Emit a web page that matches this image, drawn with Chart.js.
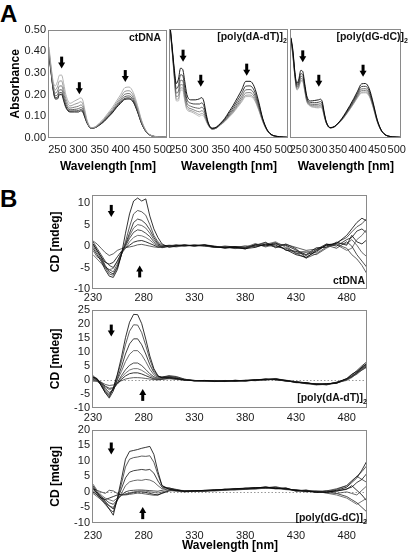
<!DOCTYPE html>
<html>
<head>
<meta charset="utf-8">
<script src="https://cdn.jsdelivr.net/npm/chart.js@4"></script>
<style>
  body { margin: 0; background: #fff; width: 411px; height: 557px; position: relative; overflow: hidden;
         font-family: "Liberation Sans", Arial, sans-serif; }
  .box { position: absolute; }
  .big { position: absolute; left: 0; font-weight: bold; font-size: 24px; line-height: 24px; color: #000; }
  .tag { position: absolute; font-weight: bold; font-size: 10.5px; line-height: 10px; white-space: nowrap; color: #111; }
  .tag sub { font-size: 7px; line-height: 0; vertical-align: -3px; }
</style>
</head>
<body>
<div class="big" style="top:2px">A</div>
<div class="big" style="top:187px">B</div>

<div class="box" style="left:0;top:20px"><canvas id="a1" width="180" height="158"></canvas></div>
<div class="box" style="left:160px;top:20px"><canvas id="a2" width="140" height="158"></canvas></div>
<div class="box" style="left:281px;top:20px"><canvas id="a3" width="130" height="158"></canvas></div>
<div class="box" style="left:30px;top:185px"><canvas id="b1" width="345" height="120"></canvas></div>
<div class="box" style="left:30px;top:300px"><canvas id="b2" width="345" height="125"></canvas></div>
<div class="box" style="left:30px;top:420px"><canvas id="b3" width="345" height="137"></canvas></div>

<div class="tag" style="right:250px;top:32px">ctDNA</div>
<div class="tag" style="right:124px;top:31px">[poly(dA-dT)]<sub>2</sub></div>
<div class="tag" style="right:3px;top:31px">[poly(dG-dC)]<sub>2</sub></div>
<div class="tag" style="right:46px;top:275px">ctDNA</div>
<div class="tag" style="right:44px;top:392px">[poly(dA-dT)]<sub>2</sub></div>
<div class="tag" style="right:44px;top:512px">[poly(dG-dC)]<sub>2</sub></div>

<script>
// ---- data ----
const wlA = [230,235,240,245,250,255,260,265,270,280,290,300,305,310,315,320,330,340,350,360,370,380,390,400,410,420,430,440,450,460,470,480,490,500,510];
const xTicksA = [250,300,350,400,450,500];
const yTicksA = [0,0.1,0.2,0.3,0.4,0.5];

const absCtDNA = [
  [.42,.33,.26,.24,.26,.29,.29,.25,.20,.16,.17,.18,.185,.175,.13,.085,.048,.052,.07,.09,.115,.14,.17,.20,.232,.235,.21,.15,.08,.035,.015,.008,.005,.004,.003],
  [.408,.321,.248,.222,.236,.263,.263,.226,.182,.148,.155,.162,.167,.158,.12,.08,.047,.051,.067,.085,.109,.132,.161,.188,.215,.218,.197,.141,.076,.034,.014,.008,.005,.004,.003],
  [.398,.313,.238,.207,.216,.24,.24,.206,.167,.138,.142,.147,.152,.145,.111,.077,.046,.05,.064,.082,.104,.126,.153,.178,.202,.205,.185,.133,.072,.032,.014,.007,.005,.004,.003],
  [.39,.307,.23,.195,.20,.222,.222,.19,.155,.13,.132,.135,.14,.134,.104,.074,.046,.049,.062,.079,.10,.121,.147,.17,.191,.194,.176,.127,.069,.031,.013,.007,.005,.004,.003],
  [.384,.303,.224,.186,.188,.209,.209,.178,.146,.124,.125,.126,.131,.125,.098,.071,.045,.048,.061,.076,.097,.117,.143,.164,.183,.185,.17,.123,.066,.03,.013,.007,.005,.004,.003],
  [.38,.30,.22,.18,.18,.20,.20,.17,.14,.12,.12,.12,.125,.12,.095,.07,.045,.048,.06,.075,.095,.115,.14,.16,.178,.18,.165,.12,.065,.03,.013,.007,.005,.004,.003]
];
const absPolyAT = [
  [.52,.42,.32,.25,.27,.32,.315,.26,.20,.175,.175,.18,.185,.17,.12,.075,.045,.05,.068,.09,.12,.15,.185,.22,.26,.26,.235,.17,.09,.04,.017,.009,.006,.004,.003],
  [.514,.414,.308,.226,.24,.29,.287,.233,.179,.159,.156,.156,.161,.149,.108,.071,.044,.049,.066,.086,.113,.14,.172,.204,.238,.239,.217,.158,.086,.039,.016,.009,.006,.004,.003],
  [.509,.409,.298,.206,.215,.265,.263,.211,.162,.145,.139,.136,.141,.132,.098,.067,.042,.047,.064,.082,.106,.131,.16,.19,.221,.222,.202,.148,.082,.037,.016,.008,.005,.004,.003],
  [.505,.405,.29,.19,.195,.245,.244,.193,.148,.134,.126,.12,.125,.118,.09,.064,.041,.046,.062,.079,.101,.124,.151,.179,.207,.208,.19,.14,.079,.036,.015,.008,.005,.004,.003],
  [.502,.402,.284,.178,.18,.23,.23,.179,.137,.126,.117,.108,.113,.107,.084,.062,.04,.045,.061,.077,.098,.119,.145,.171,.196,.197,.181,.134,.077,.035,.015,.008,.005,.004,.003],
  [.50,.40,.28,.17,.17,.22,.22,.17,.13,.12,.11,.10,.105,.10,.08,.06,.04,.045,.06,.075,.095,.115,.14,.165,.19,.19,.175,.13,.075,.035,.015,.008,.005,.004,.003]
];
const absPolyGC = [
  [.46,.40,.30,.25,.27,.31,.305,.25,.195,.17,.172,.175,.178,.165,.115,.075,.048,.052,.068,.09,.118,.148,.18,.215,.248,.25,.225,.16,.085,.038,.016,.008,.005,.004,.003],
  [.457,.391,.294,.241,.258,.295,.291,.24,.187,.163,.162,.164,.167,.155,.11,.073,.047,.051,.067,.088,.114,.143,.173,.206,.236,.237,.215,.153,.082,.037,.016,.008,.005,.004,.003],
  [.455,.384,.289,.234,.248,.283,.279,.231,.18,.156,.154,.155,.157,.147,.106,.071,.047,.051,.066,.086,.111,.138,.167,.199,.225,.226,.206,.148,.08,.036,.015,.008,.005,.004,.003],
  [.453,.378,.285,.228,.24,.273,.27,.224,.175,.151,.148,.147,.15,.14,.102,.07,.047,.051,.065,.084,.108,.135,.163,.193,.217,.218,.199,.144,.078,.035,.015,.008,.005,.004,.003],
  [.451,.373,.282,.223,.234,.265,.263,.219,.171,.148,.143,.142,.144,.135,.10,.069,.046,.05,.064,.083,.106,.132,.159,.188,.21,.211,.194,.14,.076,.034,.015,.008,.005,.004,.003],
  [.45,.37,.28,.22,.23,.26,.258,.215,.168,.145,.14,.138,.14,.132,.098,.068,.046,.05,.064,.082,.105,.13,.157,.185,.206,.207,.19,.138,.075,.034,.015,.008,.005,.004,.003]
];

const wlCD = [230,234,238,242,246,250,254,258,262,266,270,274,278,282,286,290,294,298,305,312,320,330,340,350,360,370,380,390,400,410,420,430,440,450,460,470,480,485,490,495,500];
const xTicksCD = [230,280,330,380,430,480];
const yTicksCD1 = [-10,-5,0,5,10];
const yTicksCD2 = [-10,-5,0,5,10,15,20,25];
const yTicksCD3 = [-10,-5,0,5,10,15,20];

const cdCtDNA = [
  [-0.5,-2,-3.5,-5.5,-7,-7.3,-5.5,-2,3,7.5,10.5,11.2,10.5,11,7,4,2,0.5,-0.3,0,0.2,0.1,0.3,-0.2,-0.4,-0.3,-0.6,-0.3,0.5,0.2,-0.8,-2,-2.6,-1.2,0.3,0.6,2.5,4,5.5,6.5,5.8],
  [0,-1.5,-3,-5,-6.5,-6.8,-5,-2,1,4.5,7.5,8.3,8,7.2,5,2.5,1,0.2,0,0.3,0.1,0.2,0,-0.3,-0.2,-0.5,-0.4,0,0.8,-0.2,-0.5,-1.6,-2.8,-1.8,-0.2,0.8,2,3.3,4.5,5.2,6.5],
  [0.5,-1,-2.5,-4.5,-6,-6.5,-4.8,-2,0.5,3,5.5,6.3,6,5.2,3.8,2,0.6,0,0.2,0.1,0.3,0,0.2,-0.1,-0.5,-0.2,-0.7,0.3,0.2,0.8,-1,-1.2,-2.2,-0.8,0.5,0,1.5,2,3.5,4,3],
  [-1,-2.5,-3,-4.8,-5.5,-6,-4.2,-1.5,0.2,2.4,4.2,5,4.8,4.2,3,1.5,0.4,-0.2,0,0.2,0,0.3,0.1,-0.3,-0.1,-0.6,-0.3,0.6,-0.2,0.4,0.1,-1.8,-1.5,-2,-0.5,0.7,0.5,1.5,0.2,-1.5,-2.5],
  [1,-0.5,-2,-3.5,-4.5,-5,-3.5,-1.5,0,1.8,3.2,3.8,3.6,3,2.2,1,0.2,-0.3,-0.1,0.1,0.2,0,0.3,0,-0.4,-0.1,-0.2,0.2,0.9,-0.4,0.5,-0.6,-2.8,-1,0.2,-0.5,1,0,-2,-3.5,-5],
  [-2,-3,-4,-5,-5.5,-5.2,-3.5,-1.8,-0.5,1,2,2.5,2.4,2,1.4,0.6,0,-0.4,0,-0.2,0.1,0.2,0,-0.2,-0.3,-0.4,0.1,-0.2,0.4,1,-0.3,-1.4,-1.2,-1.5,0.4,0.3,-1,-0.5,1.5,2.5,4],
  [0.5,-1,-2.5,-3.8,-4.2,-3.8,-2.5,-1.2,-0.5,0.2,0.9,1.2,1.3,1,0.6,0.2,-0.2,-0.3,0.1,0,0.2,0.1,0.2,-0.3,0,-0.2,-0.5,0.4,0,0.6,0.2,-0.9,-2,-0.4,-0.3,0.9,0.2,2.5,1,0.5,1.5],
  [1.2,0.5,-0.5,-1.5,-2.2,-1.8,-1,-0.6,-0.3,-0.2,0,0.3,0.4,0.2,0,-0.2,-0.3,-0.1,0.1,0.2,0,0.2,0.1,-0.1,-0.2,-0.1,-0.3,0,0.3,-0.2,0.4,-0.3,-1,-0.7,0.1,0.4,-0.5,-2,-3,-4.5,-6.5]
];
const cdPolyAT = [
  [1,0.5,-2,-4.5,-6,-3,2,8,15,20.5,23.3,23.2,20,14.5,8.5,4,1.5,0.7,0.8,0.5,0,-0.3,-0.2,-0.4,-0.5,-0.2,-0.3,0,0.2,0.3,-0.2,-0.8,-1.2,-1.5,-1.5,-1,0.5,2,3,4.5,5.8],
  [0.5,0,-1.5,-4,-5.5,-3,1.5,6.5,12.5,17.3,19.6,19.5,16.8,12.2,7.2,3.4,1.3,0.8,1.2,0.9,0.2,-0.2,-0.4,-0.3,-0.6,-0.1,-0.4,0.1,0,0.5,-0.4,-0.6,-1.4,-1.3,-1.7,-0.8,0.2,1.5,2.5,4,5],
  [1.5,0.2,-2,-4.5,-6.5,-4,0.5,4.5,9.2,12.8,14.6,14.6,12.5,9.2,5.4,2.6,1.2,1,1.5,1.2,0.3,-0.4,-0.3,-0.5,-0.3,-0.5,-0.2,-0.1,0.3,0.1,-0.3,-0.9,-1,-1.6,-1.4,-1.2,0.3,1.8,3.3,5,6.5],
  [0,-0.5,-1.5,-3.5,-5,-3.5,0,3,6.5,9.1,10.4,10.4,8.9,6.5,3.8,1.8,0.9,1,1.3,0.8,0.1,-0.3,-0.5,-0.2,-0.4,-0.3,-0.5,0,0.1,0.2,-0.5,-0.7,-1.3,-1.8,-1.6,-0.9,0,1.2,2,3.5,4.5],
  [1,0.3,-1,-3,-4.5,-3.5,-1,1.5,3.6,5.2,6,6,5.1,3.7,2.2,1.1,0.6,0.8,1,0.6,0,-0.2,-0.3,-0.6,-0.2,-0.4,-0.1,-0.3,0.2,0,-0.2,-1,-1.1,-1.4,-1.8,-1.1,0.4,1,2.8,4.2,5.5],
  [-0.5,-0.5,-1.5,-2.5,-3.5,-3,-1.2,0.8,2.4,3.5,4,4,3.4,2.5,1.5,0.7,0.3,0.5,0.8,0.4,-0.1,-0.3,-0.2,-0.4,-0.5,-0.2,-0.3,0.1,-0.1,0.3,-0.3,-0.8,-1.2,-1.5,-1.5,-1,-0.2,0.8,2.2,3.8,5.2],
  [0.8,0,-1,-2.2,-3,-2.8,-1.5,0.2,1.4,2.2,2.5,2.5,2.1,1.5,0.9,0.4,0.2,0.3,0.6,0.3,0,-0.2,-0.4,-0.3,-0.3,-0.5,-0.2,0,0.3,0.1,-0.4,-0.7,-1,-1.7,-1.3,-1.2,0.1,1.3,2.5,3.5,4.8],
  [0.2,-0.3,-0.8,-1.6,-2,-1.8,-1,-0.3,0.3,0.6,0.8,0.8,0.7,0.5,0.3,0.1,0,0.2,0.4,0.2,-0.1,-0.3,-0.3,-0.5,-0.4,-0.2,-0.4,-0.1,0,0.4,-0.1,-0.6,-1.1,-1.5,-1.6,-0.9,0.3,1,2.3,4.5,6]
];
const cdPolyGC = [
  [1.5,-0.5,-2,-3.5,-5.5,-7.5,-2,4,10.5,13,13.3,13.6,14,14.3,14.6,12,6.5,2,0.8,0.5,0.2,0.3,0.5,0.6,0.8,1,1.2,1.3,1.5,1.2,1,0.5,0.2,0,-0.2,0.5,1.5,3,4.5,7,10],
  [0.5,-1,-2.5,-4,-5.5,-6.5,-2.5,2.5,8,10.5,11,11.2,11.5,11.4,11.6,9.5,5.5,2,1,0.6,0.3,0.2,0.4,0.7,0.6,0.9,1.1,1.4,1.2,1.5,0.8,0.7,0.1,0.3,0,0.8,2,3.5,5,6.5,8.5],
  [2,0,-1.5,-3,-4.5,-5.5,-2.5,1,4.5,6.3,6.8,7,7.2,7,7.2,6,3.5,1.5,1.2,0.8,0.2,0.4,0.3,0.5,0.9,0.8,1,1.2,1.6,1.1,1.2,0.4,0.5,-0.2,0.3,0.2,1,1.5,3,4,6],
  [-0.5,-1.5,-2.5,-3.5,-4.5,-5,-2.8,-0.5,2,3.2,3.6,3.8,3.7,4,3.8,3.2,2,1,1.3,0.6,0.4,0.1,0.5,0.6,0.7,1.1,0.9,1.4,1.3,1.7,0.9,0.6,0.3,0.1,-0.3,-0.5,0,-0.5,-1,0.5,2],
  [1,-0.5,-1.5,-2.5,-3.5,-4,-2.5,-1,0,0.4,0.5,0.6,0.6,0.5,0.4,0.3,0.2,0.5,1,0.4,0.3,0.4,0.2,0.6,0.8,0.7,1.2,1,1.4,1,1.3,0.2,0.6,0,0.2,-0.5,-1.5,-2.5,-3.5,-5,-6.5],
  [2.5,0.5,-1,-2,-2.5,-3,-2,-1.2,-0.6,-0.3,0,0.2,0.3,0.2,0,-0.2,-0.4,0,0.6,0.2,0.1,0.3,0.4,0.5,0.6,0.9,1,1.3,1.1,1.4,0.7,0.5,0,0.2,-0.4,-1,-2,-3,-4,-3,-2],
  [0,-1,-2,-2.5,-2,-1.5,-1,-0.8,-0.8,-0.5,-0.2,0,0,-0.2,-0.5,-0.8,-1,-0.5,0.3,0.5,0.2,0.2,0.3,0.4,0.7,0.8,0.9,1.1,1.5,1.2,1,0.3,0.2,-0.1,-0.1,0.3,0.8,2,0.5,-1,-3],
  [1,0.5,0,-0.5,0.5,0.3,-0.5,-1,-1,-0.8,-0.6,-0.4,-0.5,-0.7,-0.9,-1.1,-1,-0.3,0.5,0.3,0,0.2,0.4,0.3,0.5,0.6,0.8,0.9,1.2,1,0.8,0.6,0.4,0.2,0.3,1,2,3.5,5,4,3]
];

// arrows: [wavelength, value at tip, direction]
const arrowsA1 = [[260, 0.32, 'down'], [302, 0.202, 'down'], [411, 0.258, 'down']];
const arrowsA2 = [[261, 0.35, 'down'], [303, 0.235, 'down'], [412, 0.286, 'down']];
const arrowsA3 = [[260, 0.347, 'down'], [301, 0.235, 'down'], [414, 0.281, 'down']];
const arrowsB1 = [[248, 6.8, 'down'], [276, -4.5, 'up']];
const arrowsB2 = [[248, 15.4, 'down'], [279, -3.2, 'up']];
const arrowsB3 = [[248, 12, 'down'], [279, -4.9, 'up']];

// ---- drawing ----
const FONT = '"Liberation Sans", Arial, sans-serif';
Chart.defaults.font.family = FONT;

const marks = {
  id: 'marks',
  beforeDatasetsDraw(chart, args, o) {
    const {ctx, chartArea: a, scales: {y}} = chart;
    if (!o.zero) return;
    ctx.save();
    ctx.strokeStyle = '#999';
    ctx.lineWidth = 1;
    ctx.setLineDash([1.5, 2]);
    const y0 = Math.round(y.getPixelForValue(0)) + 0.5;
    ctx.beginPath(); ctx.moveTo(a.left, y0); ctx.lineTo(a.right, y0); ctx.stroke();
    ctx.restore();
  },
  afterDatasetsDraw(chart, args, o) {
    const {ctx, chartArea: a, scales: {x, y}} = chart;
    ctx.save();
    ctx.strokeStyle = '#8a8a8a';
    ctx.lineWidth = 1;
    ctx.strokeRect(Math.round(a.left) - 0.5, Math.round(a.top) + 0.5,
                   Math.round(a.right - a.left), Math.round(a.bottom - a.top) - 1);
    ctx.fillStyle = '#000';
    (o.arrows || []).forEach(([xv, yv, dir]) => {
      const px = x.getPixelForValue(xv), py = y.getPixelForValue(yv);
      const s = dir === 'up' ? 1 : -1;
      ctx.fillRect(px - 1.5, Math.min(py + s * 5, py + s * 12), 3, 7);
      ctx.beginPath();
      ctx.moveTo(px, py);
      ctx.lineTo(px - 3.5, py + s * 6);
      ctx.lineTo(px + 3.5, py + s * 6);
      ctx.closePath();
      ctx.fill();
    });
    ctx.restore();
  }
};

function series(xs, rows, colors, width, smooth) {
  return rows.map((r, i) => ({
    data: xs.map((w, j) => ({x: w, y: r[j]})),
    borderColor: colors[i % colors.length],
    borderWidth: width,
    pointRadius: 0,
    tension: 0,
    cubicInterpolationMode: smooth ? 'monotone' : 'default',
    clip: 0
  }));
}

function xAxis(min, max, ticks, height, pad, withTitle) {
  return {
    type: 'linear', min, max,
    grid: {display: false, drawTicks: false},
    border: {display: false},
    afterBuildTicks: s => { s.ticks = ticks.map(v => ({value: v})); },
    afterFit: s => { s.height = height; },
    ticks: {autoSkip: false, maxRotation: 0, padding: pad, color: '#1a1a1a', font: {size: 11}},
    title: {display: withTitle, text: 'Wavelength [nm]', color: '#000',
            font: {size: 12, weight: 'bold'}, padding: {top: 0, bottom: 4}}
  };
}

function yAxis(min, max, ticks, width, fmt, title, titlePad) {
  const tickOpts = {autoSkip: false, padding: 3, color: '#1a1a1a', font: {size: 11}};
  if (fmt) tickOpts.callback = fmt;
  return {
    min, max, display: !!width,
    grid: {display: false, drawTicks: false},
    border: {display: false},
    afterBuildTicks: s => { s.ticks = ticks.map(v => ({value: v})); },
    afterFit: s => { s.width = width; },
    ticks: tickOpts,
    title: {display: !!title, text: title, color: '#000',
            font: {size: 12, weight: 'bold'}, padding: {top: titlePad, bottom: 0}}
  };
}

function makeChart(id, datasets, x, y, padding, arrows, zero) {
  return new Chart(document.getElementById(id), {
    type: 'line',
    data: {datasets},
    options: {
      responsive: false, animation: false,
      layout: {padding},
      scales: {x, y},
      plugins: {legend: {display: false}, tooltip: {enabled: false}, marks: {arrows, zero}}
    },
    plugins: [marks]
  });
}

const lightToDark = ['#a8a8a8', '#8a8a8a', '#6a6a6a', '#4a4a4a', '#262626', '#000'];
const darkToLight = ['#000', '#2e2e2e', '#555', '#777', '#999', '#b4b4b4'];
const cdColors = ['#000', '#333', '#111', '#444', '#222', '#555', '#000', '#3a3a3a'];
const fmtA = v => v.toFixed(2);

makeChart('a1', series(wlA, absCtDNA, lightToDark, 0.9, true),
  xAxis(230, 510, xTicksA, 40, 5, true),
  yAxis(0, 0.5, yTicksA, 49, fmtA, 'Absorbance', 8),
  {top: 9, right: 13, left: 0, bottom: 0}, arrowsA1, false);
makeChart('a2', series(wlA, absPolyAT, darkToLight, 0.9, true),
  xAxis(230, 510, xTicksA, 40, 5, true),
  yAxis(0, 0.5, yTicksA, 0, fmtA, '', 0),
  {top: 9, right: 12, left: 10, bottom: 0}, arrowsA2, false);
makeChart('a3', series(wlA, absPolyGC, darkToLight, 0.9, true),
  xAxis(230, 510, xTicksA, 40, 5, true),
  yAxis(0, 0.5, yTicksA, 0, fmtA, '', 0),
  {top: 9, right: 2, left: 10, bottom: 0}, arrowsA3, false);

makeChart('b1', series(wlCD, cdCtDNA, cdColors, 0.8, false),
  xAxis(230, 500, xTicksCD, 16, 2, false),
  yAxis(-10, 12, yTicksCD1, 63, null, 'CD [mdeg]', 18),
  {top: 7, right: 8, left: 0, bottom: 0}, arrowsB1, false);
makeChart('b2', series(wlCD, cdPolyAT, cdColors, 0.8, false),
  xAxis(230, 500, xTicksCD, 17, 3, false),
  yAxis(-10, 25, yTicksCD2, 63, null, 'CD [mdeg]', 18),
  {top: 7, right: 8, left: 0, bottom: 0}, arrowsB2, true);
makeChart('b3', series(wlCD, cdPolyGC, cdColors, 0.8, false),
  xAxis(230, 500, xTicksCD, 34, 6, true),
  yAxis(-10, 20, yTicksCD3, 63, null, 'CD [mdeg]', 18),
  {top: 7, right: 8, left: 0, bottom: 0}, arrowsB3, true);
</script>
</body>
</html>
